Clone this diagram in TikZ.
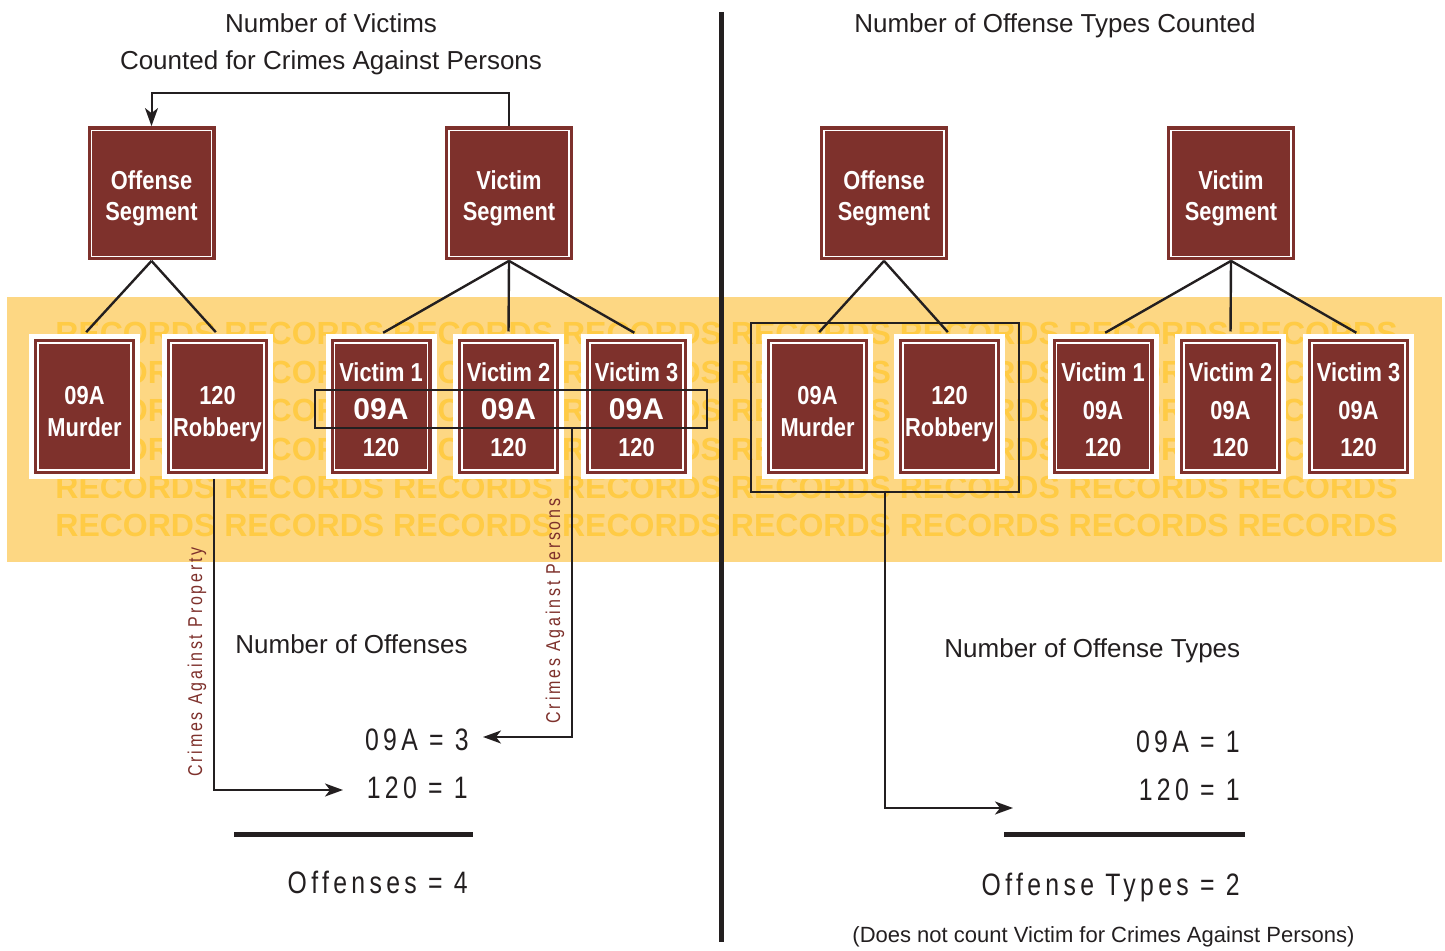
\documentclass[tikz,border=0pt]{standalone}
\usepackage{fontspec}
\setmainfont{Liberation Sans}
\newfontfamily\narrowfont{Liberation Sans}[FakeStretch=0.84]
\newfontfamily\trackfont{Liberation Sans}[FakeStretch=0.8,LetterSpace=14]
\usetikzlibrary{arrows.meta}
\definecolor{boxred}{HTML}{7E312C}
\definecolor{bandyel}{HTML}{FDD783}
\definecolor{recyel}{HTML}{FFCB45}
\definecolor{ink}{HTML}{231F20}
\begin{document}
\begin{tikzpicture}[x=0.5pt,y=-0.5pt,
  seg/.style={fill=boxred, minimum width=64pt, minimum height=67pt, inner sep=0pt,
    text=white, align=center, font=\narrowfont\bfseries\fontsize{13}{15.5}\selectfont,
    text height=30.5pt, text depth=3pt,
    path picture={\draw[white,line width=0.6pt]
      ([shift={(2pt,-2pt)}]path picture bounding box.north west) rectangle
      ([shift={(-2pt,2pt)}]path picture bounding box.south east);}},
  rec/.style={fill=boxred, draw=white, line width=2.5pt, minimum width=53pt,
    minimum height=70pt, inner sep=0pt, text=white, align=center,
    font=\narrowfont\bfseries\fontsize{13}{16}\selectfont,
    text height=33.5pt, text depth=3pt,
    path picture={\draw[white,line width=0.6pt]
      ([shift={(3.25pt,-3.25pt)}]path picture bounding box.north west) rectangle
      ([shift={(-3.25pt,3.25pt)}]path picture bounding box.south east);}},
  vic/.style={rec, font=\narrowfont\bfseries\fontsize{13}{18.75}\selectfont,
    text height=53.5pt, text depth=3pt},
  sel/.style={draw=ink, line width=1.3pt, inner sep=0pt},
  conn/.style={draw=ink, line width=1.2pt, shorten >=1.25pt},
  arrow/.style={draw=ink, line width=1pt, -{Stealth[length=9pt,width=6.5pt,inset=2.5pt]}},
  title/.style={anchor=base, inner sep=0pt, text=ink, font=\fontsize{13}{15.6}\selectfont},
  count/.style={anchor=base east, inner sep=0pt, text=ink,
    font=\trackfont\fontsize{15.5}{18}\selectfont},
  crimes/.style={rotate=90, inner sep=0pt, text=boxred,
    font=\trackfont\fontsize{10}{12}\selectfont}]
\useasboundingbox (0,0) rectangle (1445,951);
% band of records
\fill[bandyel] (7,297) rectangle (1442,562);
\foreach \r in {0,...,5}
  \node[anchor=base west, inner sep=0pt, text=recyel,
    font=\rmfamily\bfseries\fontsize{16}{19}\selectfont] (recs\r) at (55,345+38.4*\r)
    {RECORDS RECORDS RECORDS RECORDS RECORDS RECORDS RECORDS RECORDS};
\draw[ink, line width=2.5pt] (721,12) -- (721,942);

% left: victims counted
\node[title] (ttl1) at (331,33) {Number of Victims};
\node[title] (ttl2) at (331,70) {Counted for Crimes Against Persons};
\node[seg] (lOff) at (151.5,193.5) {Offense\\Segment};
\node[seg] (lVic) at (509,193.5) {Victim\\Segment};
\node[rec] (lMur) at (84.5,406.5) {09A\\Murder};
\node[rec] (lRob) at (217.5,406.5) {120\\Robbery};
\foreach \i/\x in {1/381,2/508.5,3/636.5}
  \node[vic] (lV\i) at (\x,406.5)
    {Victim \i\\{\rmfamily\bfseries\fontsize{15}{18.75}\selectfont 09A}\\120};
\draw[conn] (lOff.south) -- (lMur.north);
\draw[conn] (lOff.south) -- (lRob.north);
\draw[conn] (lVic.south) -- (lV1.north);
\draw[conn] (lVic.south) -- (lV2.north);
\draw[conn] (lVic.south) -- (lV3.north);
\draw[arrow] (lVic.north) -- ++(0,-33) -| (lOff.north);
\node[sel, minimum width=196pt, minimum height=19pt] (lSel) at (511,409) {};

\coordinate (lEndP) at (343,790);
\coordinate (lEndV) at (483,737);
\draw[arrow] ([xshift=-2pt]lRob.south) |- (lEndP);
\draw[arrow] ([xshift=30.5pt]lSel.south) |- (lEndV);
\node[crimes] (lProp) at (197,662) {Crimes Against Property};
\node[crimes] (lPers) at (555,611) {Crimes Against Persons};

\node[title, anchor=base west] (lHead) at (235,653) {Number of Offenses};
\node[count] (lN1) at (469,750) {09A = 3};
\node[count] (lN2) at (468,798) {120 = 1};
\draw[ink, line width=2.6pt] (234,834.5) -- (473,834.5);
\node[count] (lSum) at (468,893) {Offenses = 4};

% right: offense types counted
\node[title] (ttl3) at (1055,33) {Number of Offense Types Counted};
\node[seg] (rOff) at (884,193.5) {Offense\\Segment};
\node[seg] (rVic) at (1231,193.5) {Victim\\Segment};
\node[rec] (rMur) at (817.5,406.5) {09A\\Murder};
\node[rec] (rRob) at (949.5,406.5) {120\\Robbery};
\foreach \i/\x in {1/1103,2/1230.5,3/1358.5}
  \node[vic] (rV\i) at (\x,406.5) {Victim \i\\09A\\120};
\draw[conn] (rOff.south) -- (rMur.north);
\draw[conn] (rOff.south) -- (rRob.north);
\draw[conn] (rVic.south) -- (rV1.north);
\draw[conn] (rVic.south) -- (rV2.north);
\draw[conn] (rVic.south) -- (rV3.north);
\node[sel, minimum width=134pt, minimum height=84.5pt] (rSel) at (885,407.5) {};

\coordinate (rEnd) at (1013,808);
\draw[arrow] (rSel.south) |- (rEnd);

\node[title, anchor=base west] (rHead) at (944,657) {Number of Offense Types};
\node[count] (rN1) at (1240,752) {09A = 1};
\node[count] (rN2) at (1240,800) {120 = 1};
\draw[ink, line width=2.6pt] (1004,834.5) -- (1245,834.5);
\node[count] (rSum) at (1240,895) {Offense Types = 2};
\node[title, font=\fontsize{11}{13}\selectfont] (rNote) at (1103.5,942)
  {(Does not count Victim for Crimes Against Persons)};
\end{tikzpicture}
\end{document}
